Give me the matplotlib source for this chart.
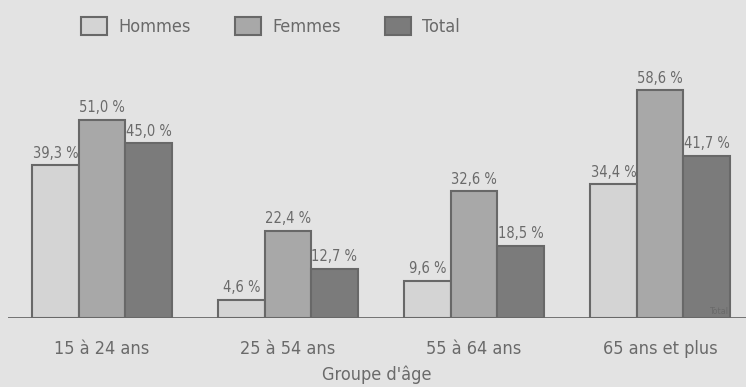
import matplotlib

matplotlib.use("Agg")

import matplotlib.pyplot as plt
import numpy as np

# --- data ---
groups = ["15 à 24 ans", "25 à 54 ans", "55 à 64 ans", "65 ans et plus"]
hommes = [39.3, 4.6, 9.6, 34.4]
femmes = [51.0, 22.4, 32.6, 58.6]
total = [45.0, 12.7, 18.5, 41.7]
series_names = ["Hommes", "Femmes", "Total"]

bg = "#e3e3e3"
colors = ["#d4d4d4", "#a8a8a8", "#7b7b7b"]
edge = "#686868"
txt = "#6a6a6a"

plt.rcParams["font.family"] = ["DejaVu Sans"]
plt.rcParams["font.stretch"] = "condensed"

fig = plt.figure(figsize=(7.46, 3.87), dpi=100, facecolor=bg)
ax = fig.add_axes([8 / 746, 69 / 387, 738 / 746, 233 / 387])
ax.set_facecolor(bg)

x = np.arange(len(groups))
w = 0.25
handles = []
for i, (vals, c) in enumerate(zip([hommes, femmes, total], colors)):
    pos = x + (i - 1) * w
    b = ax.bar(pos, vals, w, color=c, edgecolor=edge, linewidth=1.5,
               label=series_names[i], zorder=2)
    handles.append(b)
    for p, v in zip(pos, vals):
        ax.text(p, v + 1.2, f"{v:.1f} %".replace(".", ","), ha="center",
                va="bottom", fontsize=10.5, color=txt)

# faint stray label in the last bar
ax.text(x[-1] + w + 0.07, 0.6, "Total", ha="center", va="bottom",
        fontsize=6.5, color="#6a6a6a", zorder=3)

ax.axhline(0, color=edge, linewidth=2, zorder=3)
ax.set_xlim(-0.505, 3.462)
ax.set_ylim(0, 60)
ax.set_xticks(x, groups)
ax.tick_params(axis="x", length=0, pad=15.5, labelsize=13, colors=txt)
ax.set_yticks([])
for s in ax.spines.values():
    s.set_visible(False)
ax.set_xlabel("Groupe d'âge", fontsize=13, color=txt, labelpad=6)

fig.legend(handles=handles, labels=series_names, loc="upper left",
           bbox_to_anchor=(65 / 746, 1 - 1 / 387), ncol=3, frameon=False,
           fontsize=13, handlelength=1.45, handleheight=1.1,
           handletextpad=0.6, columnspacing=2.45, labelcolor=txt)

fig.savefig("out.png", dpi=100, facecolor=bg)
